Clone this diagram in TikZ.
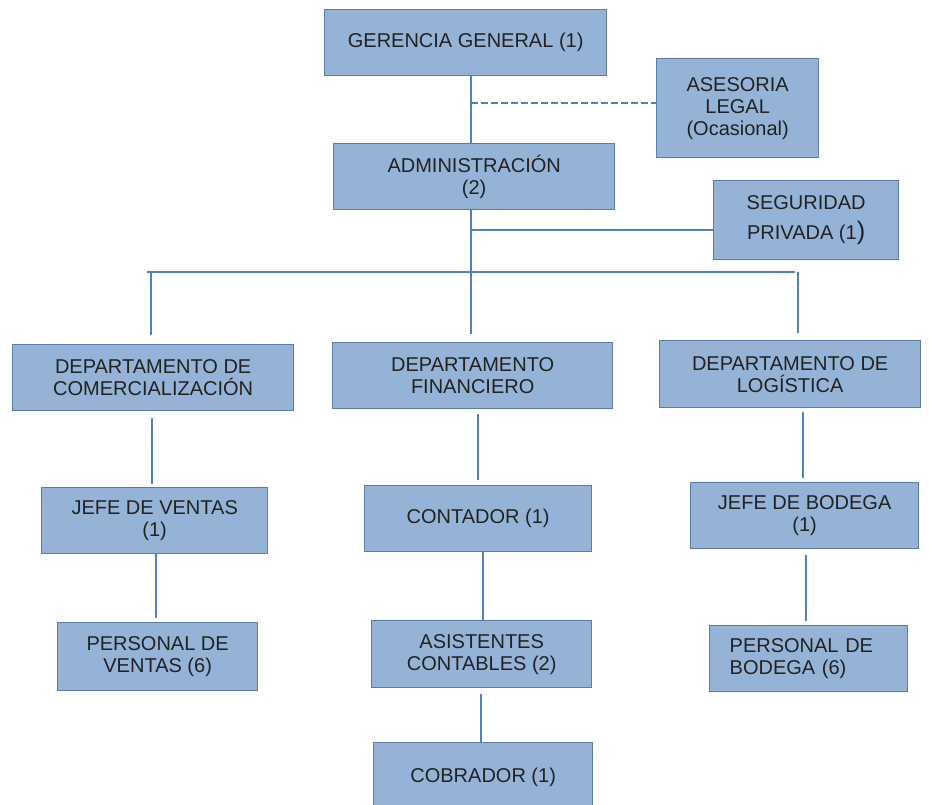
\documentclass[tikz,border=0pt]{standalone}
\usepackage{fontspec}
\setmainfont{Liberation Sans}
\definecolor{boxfill}{HTML}{95B3D7}
\definecolor{boxline}{HTML}{5B7CA6}
\definecolor{linkc}{HTML}{4F81BD}
\definecolor{txt}{HTML}{222222}
\begin{document}
\begin{tikzpicture}[x=0.75pt,y=-0.75pt,
  box/.style={draw=boxline, fill=boxfill, line width=1pt, inner sep=0pt,
    anchor=north west, align=center, text=txt,
    font=\fontsize{15}{16.5}\selectfont},
  sz/.style 2 args={minimum width=#1*0.75pt, minimum height=#2*0.75pt},
  conn/.style={draw=linkc, line width=1.3pt},
  gapa/.style={shorten <=#1*0.75pt},
  gapb/.style={shorten >=#1*0.75pt}]
\useasboundingbox (0,0) rectangle (929,804);

% boxes
\node[box, sz={282}{66}] (gg)  at (324,9)   {GERENCIA GENERAL (1)};
\node[box, sz={162}{99}] (ase) at (656,58)  {ASESORIA\\LEGAL\\(Ocasional)};
\node[box, sz={281}{66}] (adm) at (333,143) {ADMINISTRACIÓN\\(2)};
\node[box, sz={185}{79}, font=\fontsize{15}{22.5}\selectfont] (seg) at (713,180)
  {SEGURIDAD\\PRIVADA (1{\fontsize{19}{19}\selectfont)}};
\node[box, sz={281}{66}] (dc)  at (12,344)  {DEPARTAMENTO DE\\COMERCIALIZACIÓN};
\node[box, sz={280}{66}] (df)  at (332,342) {DEPARTAMENTO\\FINANCIERO};
\node[box, sz={261}{67}] (dl)  at (659,340) {DEPARTAMENTO DE\\LOGÍSTICA};
\node[box, sz={226}{66}] (jv)  at (41,487)  {JEFE DE VENTAS\\(1)};
\node[box, sz={227}{66}] (con) at (364,485) {CONTADOR (1)};
\node[box, sz={228}{66}] (jb)  at (690,482) {JEFE DE BODEGA\\(1)};
\node[box, sz={200}{68}] (pv)  at (57,622)  {PERSONAL DE\\VENTAS (6)};
\node[box, sz={220}{67}] (asi) at (371,620) {ASISTENTES\\CONTABLES (2)};
\node[box, sz={198}{66}, align=left, text width=158*0.75pt] (pb) at (709,625)
  {PERSONAL DE\\BODEGA (6)};
\node[box, sz={219}{70}] (cob) at (373,742) {COBRADOR (1)};

% junction points and trunk columns
\coordinate (trunk) at (471,0);
\coordinate (asej)  at (471,103);
\coordinate (segj)  at (471,230);
\coordinate (busL)  at (147,272);
\coordinate (busR)  at (795,272);
\coordinate (kA) at (151,0);
\coordinate (kB) at (471,0);
\coordinate (kC) at (798,0);
\coordinate (c1) at (152,0);
\coordinate (c2) at (156,0);
\coordinate (f1) at (478,0);
\coordinate (f2) at (483,0);
\coordinate (f3) at (481,0);
\coordinate (l1) at (803,0);
\coordinate (l2) at (806,0);

% upper connectors
\draw[conn] (gg.south -| trunk) -- (adm.north -| trunk);
\draw[conn, dashed, dash pattern=on 5pt off 2.5pt] (asej) -- (asej -| ase.west);
\draw[conn] (adm.south -| trunk) -- (busL -| trunk);
\draw[conn] (segj) -- (segj -| seg.west);
\draw[conn] (busL) -- (busR);
\draw[conn, gapb=9] (busL -| kA) -- (dc.north -| kA);
\draw[conn, gapb=8] (busL -| kB) -- (df.north -| kB);
\draw[conn, gapb=7] (busL -| kC) -- (dl.north -| kC);

% department branches
\draw[conn, gapa=7, gapb=3] (dc.south -| c1) -- (jv.north -| c1);
\draw[conn, gapb=4] (jv.south -| c2) -- (pv.north -| c2);
\draw[conn, gapa=5, gapb=5] (df.south -| f1) -- (con.north -| f1);
\draw[conn] (con.south -| f2) -- (asi.north -| f2);
\draw[conn, gapa=6] (asi.south -| f3) -- (cob.north -| f3);
\draw[conn, gapa=4, gapb=4] (dl.south -| l1) -- (jb.north -| l1);
\draw[conn, gapa=6, gapb=4] (jb.south -| l2) -- (pb.north -| l2);
\end{tikzpicture}
\end{document}
